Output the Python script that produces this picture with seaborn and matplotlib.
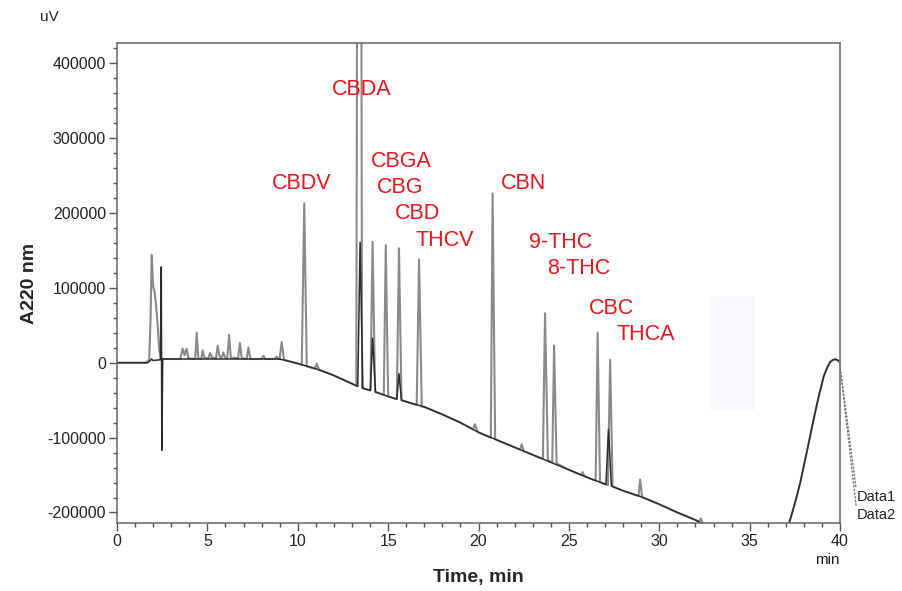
import numpy as np
import pandas as pd
import matplotlib
matplotlib.use("Agg")
import matplotlib.pyplot as plt
from matplotlib.ticker import MultipleLocator, FuncFormatter
from matplotlib.patches import Rectangle
import seaborn as sns

# Chromatogram traces (time in min, signal in uV)
data1_time = [0.0, 1.60, 1.78, 1.86, 1.92, 2.00, 2.10, 2.22, 2.34, 2.45,
              3.50, 3.63, 3.74, 3.85, 3.95, 4.33, 4.41, 4.50, 4.66, 4.74, 4.82,
              5.05, 5.15, 5.25, 5.48, 5.57, 5.68, 5.80, 5.88, 5.98, 6.10, 6.20, 6.30,
              6.70, 6.80, 6.90, 7.17, 7.27, 7.38, 8.00, 8.10, 8.20, 8.73, 8.83, 8.93,
              9.00, 9.11, 9.24, 10.0, 10.22, 10.36, 10.50, 10.95, 11.05, 11.18,
              12.0, 13.0, 13.24, 13.40, 13.56, 14.02, 14.14, 14.28, 14.76, 14.87, 15.00,
              15.48, 15.60, 15.74, 16.0, 16.58, 16.71, 16.86, 17.0, 18.0, 19.0,
              19.70, 19.80, 19.92, 20.0, 20.68, 20.78, 20.92, 21.0, 22.0, 22.30, 22.39,
              22.50, 23.0, 23.56, 23.68, 23.84, 24.08, 24.18, 24.32, 25.0, 25.68, 25.76,
              25.86, 26.0, 26.48, 26.59, 26.72, 27.16, 27.28, 27.42, 28.0, 28.85, 28.94,
              29.05, 30.0, 31.0, 32.0, 32.2, 32.30, 32.40, 33.5, 35.0, 36.3, 36.9,
              37.2, 37.5, 37.8, 38.2, 38.5, 38.8, 39.1, 39.3, 39.45, 39.6, 39.72, 39.85, 39.94, 40.0]
data1_uv = [0, 0, 4000, 60000, 144000, 102000, 92000, 60000, 17000, 5000,
            5000, 18700, 10000, 18700, 6000, 5000, 40400, 6000, 5000, 16400, 7000,
            6000, 13000, 7000, 6000, 22700, 8000, 7000, 13700, 7000, 6000, 37300, 7000,
            6000, 26200, 6000, 5000, 20400, 5000, 5000, 9300, 5000, 5000, 8400, 5000,
            5000, 27600, 4000, -1000, -3000, 213000, -5000, -8000, -1000, -9000,
            -17000, -28000, -31000, 2000000, -34000, -37000, 161700, -39000, -43000, 157000, -45000,
            -48500, 153000, -50000, -52000, -56500, 138000, -58500, -59000, -69000, -80000,
            -89000, -82000, -90500, -93000, -100000, 226000, -102000, -103000, -113000, -116000, -109000,
            -118000, -123000, -128500, 66000, -130500, -133000, 23000, -134500, -143000, -150000, -146000,
            -151500, -153000, -157500, 40400, -159500, -163500, 4000, -165500, -171000, -178000, -156000,
            -179500, -189000, -200000, -210000, -212000, -208000, -214000, -232000, -250000, -255000, -240000,
            -213000, -188000, -160000, -115000, -80000, -47000, -18000, -6000, 1000, 3800, 4500, 3800, 1700, 0]

data2_time = [0.0, 1.70, 1.85, 1.90, 2.00, 2.40, 2.45, 2.48, 2.53, 9.0, 10.0, 11.0,
              12.0, 13.0, 13.32, 13.45, 13.60, 14.02, 14.14, 14.30, 15.0, 15.48, 15.60,
              15.74, 16.0, 17.0, 18.0, 19.0, 20.0, 21.0, 22.0, 23.0, 24.0, 25.0, 26.0,
              27.05, 27.19, 27.35, 28.0, 29.0, 30.0, 31.0, 32.0, 32.3, 33.5, 35.0, 36.3,
              36.9, 37.2, 37.5, 37.8, 38.2, 38.5, 38.8, 39.1, 39.3, 39.45, 39.6, 39.72,
              39.85, 39.94, 40.0]
data2_uv = [0, 0, 3000, 5000, 3000, 4000, 128000, -117000, 5000, 5000, -1000, -8000,
            -17000, -28000, -31500, 161000, -34000, -37000, 33000, -39000, -45000, -48500, -14700,
            -50000, -52000, -59000, -69000, -80000, -93000, -103000, -113000, -123000, -133000, -143000, -153000,
            -162500, -89000, -164500, -171000, -179000, -189000, -200000, -210000, -214000, -232000, -250000, -255000,
            -240000, -213000, -188000, -160000, -115000, -80000, -47000, -18000, -6000, 1000, 3800, 4500,
            3800, 1700, 0]

# Peak names and where their labels sit
peak_names = ["CBDV", "CBDA", "CBGA", "CBG", "CBD", "THCV", "CBN",
              "9-THC", "8-THC", "CBC", "THCA"]
label_time = [8.58, 11.88, 14.03, 14.36, 15.38, 16.54, 21.23, 22.79, 23.81, 26.13, 27.65]
label_uv = [240000, 365000, 269000, 234000, 198700, 163000, 239000, 160700, 126000, 72000, 37800]

x_ticks = [0, 5, 10, 15, 20, 25, 30, 35, 40]
y_ticks = [-200000, -100000, 0, 100000, 200000, 300000, 400000]

sns.set_theme(style="ticks")
plt.rcParams["font.family"] = ["Liberation Sans", "DejaVu Sans"]

fig = plt.figure(figsize=(9.02, 5.91), dpi=100)
ax = fig.add_axes([0.1297, 0.1151, 0.8016, 0.8121])

df1 = pd.DataFrame({"time": data1_time, "uv": data1_uv})
df2 = pd.DataFrame({"time": data2_time, "uv": data2_uv})

# faint box in the empty area of the original
ax.add_patch(Rectangle((32.85, -62700), 2.44, 152100, color="#f7f8fd", lw=0, zorder=0))

sns.lineplot(data=df1, x="time", y="uv", ax=ax, color="#8a8a8a", lw=1.5,
             estimator=None, sort=False)
sns.lineplot(data=df2, x="time", y="uv", ax=ax, color="#2b2b2b", lw=1.1,
             estimator=None, sort=False)

for name, t, v in zip(peak_names, label_time, label_uv):
    ax.text(t, v, name, color="#e8141c", fontsize=15.5, ha="left", va="center")

ax.set_xlim(0, 40)
ax.set_ylim(-214000, 427000)
ax.set_xticks(x_ticks)
ax.set_yticks(y_ticks)
ax.xaxis.set_minor_locator(MultipleLocator(1))
ax.yaxis.set_minor_locator(MultipleLocator(20000))
ax.yaxis.set_major_formatter(FuncFormatter(lambda v, p: f"{int(v)}"))
ax.tick_params(which="major", length=6, width=1, color="#555555",
               labelsize=11.5, labelcolor="#222222", pad=2)
ax.tick_params(which="minor", length=3, width=1, color="#555555")
for s in ax.spines.values():
    s.set_color("#666666")
    s.set_linewidth(1.1)

ax.set_xlabel("Time, min", fontsize=14, fontweight="bold")
ax.set_ylabel("A220 nm", fontsize=14, fontweight="bold")
ax.xaxis.set_label_coords(0.5, -0.095)
ax.yaxis.set_label_coords(-0.109, 0.5)

fig.text(40 / 902, 1 - 17 / 591, "uV", fontsize=11, ha="left", va="center", color="#222222")
ax.text(0.982, -0.077, "min", transform=ax.transAxes, fontsize=11,
        ha="center", va="center", color="#222222")

# leader lines to trace names
for name, v in [("Data1", -179000), ("Data2", -204000)]:
    ax.annotate(name, xy=(39.97, 1500), xytext=(40.95, v), textcoords="data",
                fontsize=10.5, ha="left", va="center", color="#222222",
                annotation_clip=False,
                arrowprops=dict(arrowstyle="-", ls=":", color="#777777", lw=1.0,
                                shrinkA=0, shrinkB=0, relpos=(0, 0.5)))

fig.savefig("out.png", dpi=100)
